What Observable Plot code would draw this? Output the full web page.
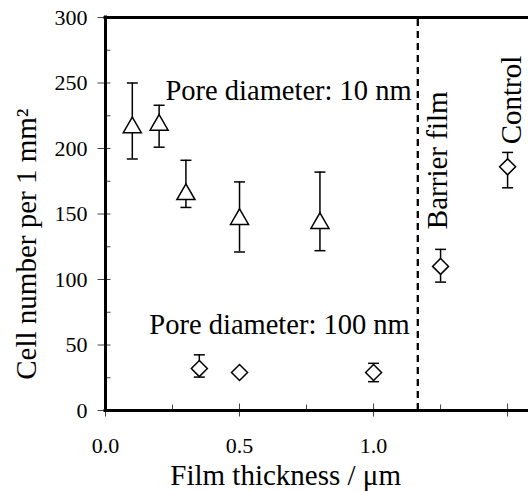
<!DOCTYPE html>
<html>
<head>
<meta charset="utf-8">
<script src="https://cdn.jsdelivr.net/npm/d3@7"></script>
<script src="https://cdn.jsdelivr.net/npm/@observablehq/plot@0.6"></script>
<style>
  html, body { margin: 0; padding: 0; background: white; }
  svg text { font-family: "Liberation Serif", "Times New Roman", serif !important; }
</style>
</head>
<body>
<div id="chart"></div>
<script>
// Pore diameter 10 nm (triangles)
const triX  = [0.1, 0.2, 0.3, 0.5, 0.8];
const triY  = [216, 218, 165, 146, 143];
const triLo = [192, 201, 155, 121, 122];
const triHi = [250, 233, 191, 174.5, 182];

// Pore diameter 100 nm (diamonds)
const diaX  = [0.35, 0.5, 1.0];
const diaY  = [32, 29, 29];
const diaLo = [25.5, null, 22];
const diaHi = [42.5, null, 36];

// Barrier film and control (diamonds)
const refX  = [1.25, 1.5];
const refY  = [110, 186];
const refLo = [98, 170];
const refHi = [123, 197];

const dividerX = [1.165];

const xMajor = [0, 0.5, 1.0, 1.5];
const xMinor = [0.25, 0.75, 1.25];
const xTickLabels = ["0.0", "0.5", "1.0"];
const xTickValues = [0, 0.5, 1.0];
const yMajor = [0, 50, 100, 150, 200, 250, 300];
const yMinor = [25, 75, 125, 175, 225, 275];
const yTickLabels = ["0", "50", "100", "150", "200", "250", "300"];

const noteText = ["Pore diameter: 10 nm", "Pore diameter: 100 nm"];
const noteX = [1.142, 1.135];
const noteY = [244, 65.3];

const vNoteText = ["Barrier film", "Control"];
const vNoteX = [1.241, 1.516];
const vNoteY = [191, 237];

const xTitle = "Film thickness / μm";
const yTitle = "Cell number per 1 mm²";

const tri = triX.map((x, i) => ({x, y: triY[i], lo: triLo[i], hi: triHi[i]}));
const dia = diaX.map((x, i) => ({x, y: diaY[i], lo: diaLo[i], hi: diaHi[i]}))
  .concat(refX.map((x, i) => ({x, y: refY[i], lo: refLo[i], hi: refHi[i]})));
const errs = tri.concat(dia).filter(d => d.lo != null);

const seg = (x1, y1, x2, y2) => ({draw(ctx) { ctx.moveTo(x1, y1); ctx.lineTo(x2, y2); }});
const cap = seg(-5.5, 0, 5.5, 0);

const FONT = "Liberation Serif";

const chart = Plot.plot({
  width: 528,
  height: 491,
  marginLeft: 105,
  marginRight: 0,
  marginTop: 17,
  marginBottom: 81,
  style: {fontFamily: FONT, background: "white", color: "black", overflow: "visible"},
  x: {domain: [0, 1.578], axis: null},
  y: {domain: [0, 300], axis: null},
  marks: [
    // dashed divider
    Plot.ruleX(dividerX, {y1: 0, y2: 300, stroke: "black", strokeWidth: 2.3, strokeDasharray: "7,5"}),
    // error bars
    Plot.ruleX(errs, {x: "x", y1: "lo", y2: "hi", stroke: "black", strokeWidth: 1.5}),
    Plot.dot(errs, {x: "x", y: "hi", symbol: cap, fill: "none", stroke: "black", strokeWidth: 1.5}),
    Plot.dot(errs, {x: "x", y: "lo", symbol: cap, fill: "none", stroke: "black", strokeWidth: 1.5}),
    // markers
    Plot.dot(tri, {x: "x", y: "y", symbol: "triangle", r: 6.7, fill: "white", stroke: "black", strokeWidth: 1.5}),
    Plot.dot(dia, {x: "x", y: "y", symbol: "diamond2", r: 7.2, fill: "white", stroke: "black", strokeWidth: 1.5}),
    // ticks
    Plot.dot(xMajor, {x: d => d, y: () => 0, symbol: seg(0, -7, 0, 6), fill: "none", stroke: "#444", strokeWidth: 1}),
    Plot.dot(xMinor, {x: d => d, y: () => 0, symbol: seg(0, -6, 0, 0), fill: "none", stroke: "#444", strokeWidth: 1}),
    Plot.dot(yMajor, {x: () => 0, y: d => d, symbol: seg(-8, 0, 5, 0), fill: "none", stroke: "#444", strokeWidth: 1}),
    Plot.dot(yMinor, {x: () => 0, y: d => d, symbol: seg(0, 0, 5, 0), fill: "none", stroke: "#444", strokeWidth: 1}),
    // frame
    Plot.ruleY([0, 300], {stroke: "black", strokeWidth: 3, strokeLinecap: "square"}),
    Plot.ruleX([0], {stroke: "black", strokeWidth: 3, strokeLinecap: "square"}),
    // tick labels
    Plot.text(xTickLabels, {x: (d, i) => xTickValues[i], y: () => 0, text: d => d, dy: 35.7, fontSize: 22, fontFamily: FONT, fill: "black"}),
    Plot.text(yTickLabels, {x: () => 0, y: (d, i) => yMajor[i], text: d => d, dx: -18, textAnchor: "end", fontSize: 22, fontFamily: FONT, fill: "black"}),
    // axis titles
    Plot.text([xTitle], {x: () => 0.672, y: () => 0, text: d => d, dy: 65.4, fontSize: 29, fontFamily: FONT, fill: "black"}),
    Plot.text([yTitle], {x: () => 0, y: () => 127, text: d => d, dx: -78.3, rotate: -90, fontSize: 29, fontFamily: FONT, fill: "black"}),
    // annotations
    Plot.text(noteText, {x: (d, i) => noteX[i], y: (d, i) => noteY[i], text: d => d, textAnchor: "end", fontSize: 28.5, fontFamily: FONT, fill: "black"}),
    Plot.text(vNoteText, {x: (d, i) => vNoteX[i], y: (d, i) => vNoteY[i], text: d => d, rotate: -90, fontSize: 29, fontFamily: FONT, fill: "black"})
  ]
});

document.getElementById("chart").appendChild(chart);
</script>
</body>
</html>
